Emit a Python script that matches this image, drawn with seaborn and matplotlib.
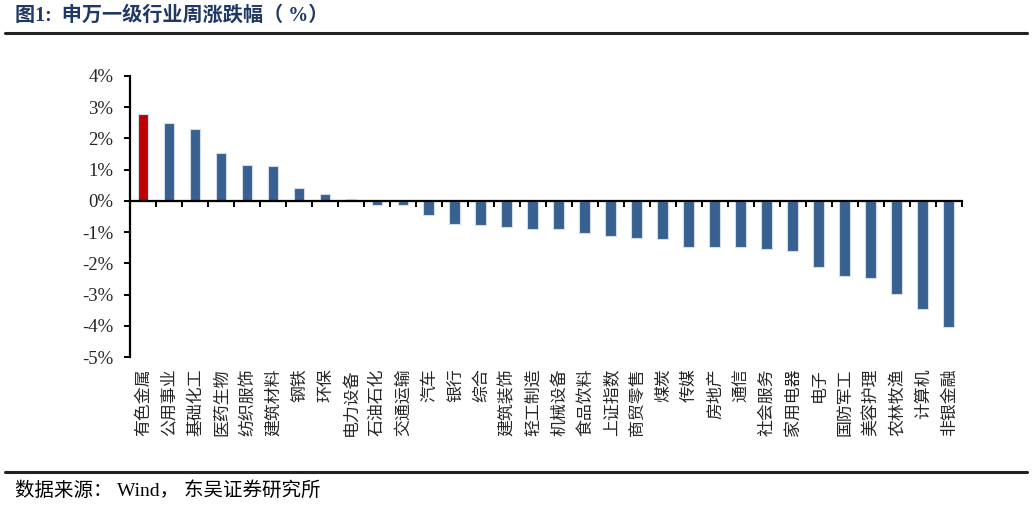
import numpy as np
import pandas as pd
import matplotlib.pyplot as plt
import seaborn as sns
from matplotlib.lines import Line2D
from matplotlib.ticker import FuncFormatter, MultipleLocator

industries = [
    '有色金属', '公用事业', '基础化工', '医药生物', '纺织服饰', '建筑材料', '钢铁', '环保',
    '电力设备', '石油石化', '交通运输', '汽车', '银行', '综合', '建筑装饰', '轻工制造',
    '机械设备', '食品饮料', '上证指数', '商贸零售', '煤炭', '传媒', '房地产', '通信',
    '社会服务', '家用电器', '电子', '国防军工', '美容护理', '农林牧渔', '计算机', '非银金融',
]
weekly_change = [
    2.79, 2.49, 2.31, 1.54, 1.16, 1.11, 0.40, 0.21,
    0.07, -0.12, -0.12, -0.46, -0.75, -0.79, -0.84, -0.89,
    -0.89, -1.03, -1.13, -1.18, -1.22, -1.47, -1.47, -1.47,
    -1.55, -1.61, -2.13, -2.42, -2.47, -2.99, -3.46, -4.04,
]
highlight = '有色金属'

BLUE = '#386090'
RED = '#C00000'

sns.set_style('white')
plt.rcParams['font.family'] = ['Liberation Serif', 'Noto Sans CJK SC', 'DejaVu Sans']

df = pd.DataFrame({'industry': industries, 'change': weekly_change})
palette = {name: (RED if name == highlight else BLUE) for name in industries}

fig = plt.figure(figsize=(10.32, 5.05), dpi=100)
ax = fig.add_axes([0.126, 0.293, 0.806, 0.557])

sns.barplot(data=df, x='industry', y='change', hue='industry', palette=palette,
            legend=False, width=0.42, edgecolor='#d3dde9', linewidth=0.8,
            saturation=1, ax=ax)

ax.set_xlim(-0.5, len(industries) - 0.5)
ax.set_ylim(-5, 4)
ax.yaxis.set_major_locator(MultipleLocator(1))
ax.yaxis.set_major_formatter(FuncFormatter(lambda v, p: f'{v:.0f}%'))
ax.set_xlabel('')
ax.set_ylabel('')

# spines: left axis, zero line drawn with the top spine
for side in ['right', 'bottom']:
    ax.spines[side].set_visible(False)
ax.spines['left'].set_color('black')
ax.spines['left'].set_linewidth(1.6)
ax.spines['top'].set_position(('data', 0))
ax.spines['top'].set_color('black')
ax.spines['top'].set_linewidth(1.6)

ax.set_xticks(np.arange(len(industries)))
ax.set_xticklabels(industries, rotation=90, fontsize=12.2, fontfamily='Noto Sans CJK SC')
ax.set_xticks(np.arange(-0.5, len(industries)), minor=True)
ax.tick_params(axis='x', which='major', length=0, pad=8, bottom=True, top=False)
ax.tick_params(axis='x', which='minor', top=True, bottom=False, direction='in',
               length=4, width=1.4, color='black')
ax.tick_params(axis='y', direction='out', length=4, width=1.4, color='black',
               labelsize=13.5, pad=8, left=True)

# header and footer
fig.text(0.015, 0.969, '图1:  申万一级行业周涨跌幅（ %）', fontsize=14.5, fontweight='bold',
         color='#1F3864', va='center', ha='left')
fig.add_artist(Line2D([0.005, 0.995], [0.934, 0.934], color='#222222', lw=2.2))
fig.add_artist(Line2D([0.005, 0.995], [0.066, 0.066], color='#222222', lw=2.2))
fig.text(0.015, 0.029, '数据来源： Wind， 东吴证券研究所', fontsize=14,
         color='black', va='center', ha='left')

fig.savefig('out.png', dpi=100)
